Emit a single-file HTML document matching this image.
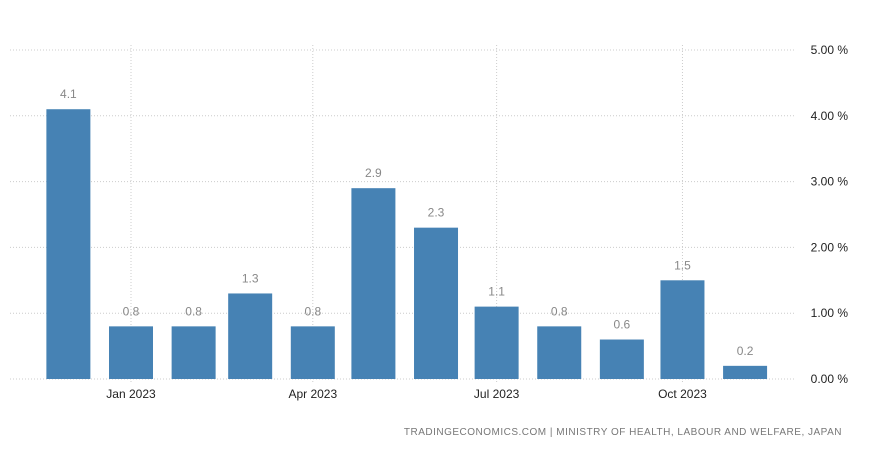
<!DOCTYPE html>
<html><head><meta charset="utf-8"><style>
body{margin:0;background:#fff;width:871px;height:452px;overflow:hidden;font-family:"Liberation Sans",sans-serif}
</style></head><body>
<svg width="871" height="452" id="chart">
<text x="842" y="435" text-anchor="end" font-size="10" fill="#777" letter-spacing="0.5">TRADINGECONOMICS.COM | MINISTRY OF HEALTH, LABOUR AND WELFARE, JAPAN</text>
</svg>
<script>
const months=["2022-12","2023-01","2023-02","2023-03","2023-04","2023-05","2023-06","2023-07","2023-08","2023-09","2023-10","2023-11"];
const values=[4.1,0.8,0.8,1.3,0.8,2.9,2.3,1.1,0.8,0.6,1.5,0.2];
const yTicks=[0,1,2,3,4,5];
const xTickMonths=["2023-01","2023-04","2023-07","2023-10"];
const xTickLabels=["Jan 2023","Apr 2023","Jul 2023","Oct 2023"];
const svg=document.getElementById('chart');const NS="http://www.w3.org/2000/svg";
function mk(t,a){const e=document.createElementNS(NS,t);for(const k in a)e.setAttribute(k,a[k]);svg.appendChild(e);return e;}
const d0=Date.UTC(2023,0,1);
function x(m){const [y,mo]=m.split('-').map(Number);return 131+(Date.UTC(y,mo-1,1)-d0)/864e5*2.02;}
function y(v){return 379-v*65.8;}
yTicks.forEach(t=>{
 const l=mk('line',{x1:10,x2:795,y1:y(t),y2:y(t),stroke:'#ccc','stroke-dasharray':'1,2'});
 
 const tx=mk('text',{x:848,y:y(t)+4,'text-anchor':'end','font-size':12,fill:'#222'});
 tx.textContent=t.toFixed(2)+' %';
 
});
xTickMonths.forEach((m,i)=>{
 const l=mk('line',{x1:x(m),x2:x(m),y1:45,y2:384,stroke:'#ccc','stroke-dasharray':'1,2'});
 
 const tx=mk('text',{x:x(m),y:398,'text-anchor':'middle','font-size':12,fill:'#222'});
 tx.textContent=xTickLabels[i];
 
});
months.forEach((m,i)=>{
 const cx=x(m),v=values[i];
 const r=mk('rect',{x:cx-22,y:y(v),width:44,height:379-y(v),fill:'#4682b4'});
 
 const t=mk('text',{x:cx,y:y(v)-11,'text-anchor':'middle','font-size':12,fill:'#888'});
 t.textContent=v.toFixed(1);
 
});
</script>
</body></html>
